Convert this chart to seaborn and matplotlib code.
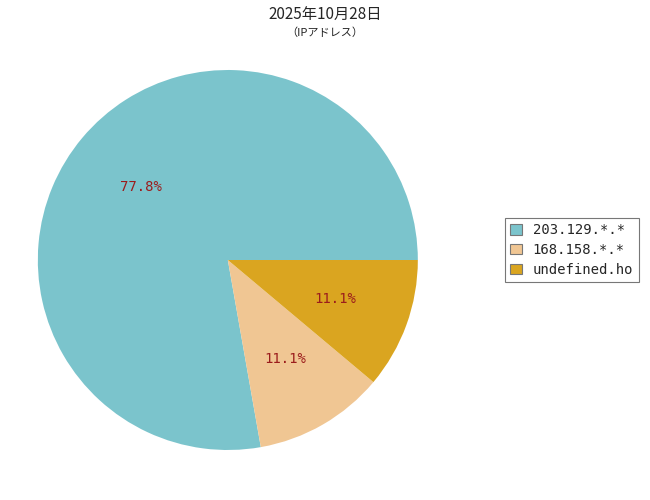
import matplotlib
matplotlib.use("Agg")
import matplotlib.pyplot as plt
import seaborn as sns

labels = ["203.129.*.*", "168.158.*.*", "undefined.ho"]
counts = [7, 1, 1]
colors = ["#7BC4CC", "#F0C693", "#DAA520"]

sns.set_style("white")
plt.rcParams['font.family'] = ['DejaVu Sans Mono', 'Noto Sans CJK JP']

fig = plt.figure(figsize=(6.5, 5), dpi=100)
ax = fig.add_axes([0.058, 0.1, 0.585, 0.76])

palette = sns.color_palette(colors)
wedges, texts, autotexts = ax.pie(
    counts, colors=palette, startangle=0, counterclock=True,
    autopct='%1.1f%%', pctdistance=0.6,
    wedgeprops={'linewidth': 0},
    textprops={'color': '#9B1C1C', 'fontsize': 10},
)
ax.set_xlim(-1, 1)
ax.set_ylim(-1, 1)
ax.set_aspect('equal')

fig.text(0.5, 0.972, "2025年10月28日", ha='center', va='center', fontsize=11,
         family=['Noto Sans CJK JP'])
fig.text(0.5, 0.935, "（IPアドレス）", ha='center', va='center', fontsize=8,
         family=['Noto Sans CJK JP'])

leg = fig.legend(wedges, labels, loc='center left', bbox_to_anchor=(0.766, 0.5),
                 fontsize=10, frameon=True, fancybox=False, edgecolor='#555555',
                 handlelength=0.8, handleheight=0.8, borderpad=0.4, labelspacing=0.42,
                 handletextpad=0.8)
for h in leg.legend_handles:
    h.set_edgecolor('#777777')
    h.set_linewidth(0.8)
leg.get_frame().set_linewidth(0.8)

fig.savefig("out.png", dpi=100)
